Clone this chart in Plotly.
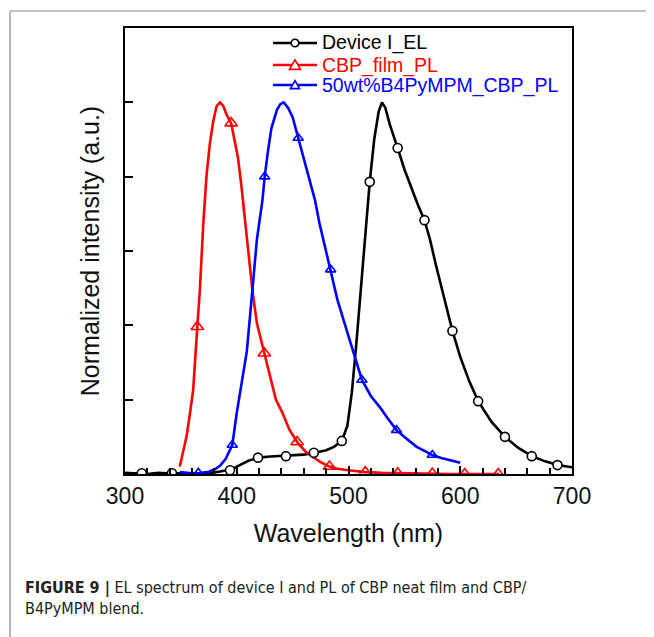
import plotly.graph_objects as go

# ---- data ----
el_wl = [300, 310, 320, 330, 340, 350, 360, 370, 380, 390, 395, 400, 405, 410, 415, 420, 430, 440, 450, 460,
         470, 480, 487, 494, 499, 503, 507, 511, 515, 519, 523, 527, 530, 533, 537, 541, 544, 550, 556, 562,
         568, 573, 578, 585, 593, 600, 608, 616, 628, 640, 652, 664, 676, 687, 700]
el_int = [0.003, 0.002, 0.0, 0.003, 0.001, 0.002, 0.001, 0.002, 0.004, 0.008, 0.012, 0.02, 0.028, 0.035, 0.04,
          0.044, 0.047, 0.048, 0.049, 0.052, 0.057, 0.064, 0.073, 0.089, 0.13, 0.22, 0.35, 0.5, 0.65, 0.786,
          0.9, 0.975, 1.0, 0.985, 0.94, 0.9, 0.877, 0.82, 0.77, 0.725, 0.683, 0.63, 0.565, 0.48, 0.385, 0.315,
          0.25, 0.196, 0.14, 0.10, 0.07, 0.048, 0.034, 0.024, 0.018]
el_mk_wl = [315, 342, 394, 419, 444, 469, 494, 519, 544, 568, 593, 616, 640, 664, 687]
el_mk_int = [0.002, 0.002, 0.01, 0.044, 0.048, 0.057, 0.089, 0.786, 0.877, 0.683, 0.385, 0.196, 0.10, 0.048, 0.024]

cbp_wl = [349, 352, 355, 358, 361, 364.7, 367, 370, 373, 376, 379, 382, 385, 388, 391, 395, 398, 401, 404, 406,
          410, 414, 418, 424.7, 430, 435, 441, 447, 454, 461, 468, 475, 483, 490, 500, 515, 530, 544, 560, 575,
          590, 604, 620, 635]
cbp_int = [0.02, 0.06, 0.1, 0.16, 0.226, 0.396, 0.495, 0.67, 0.805, 0.89, 0.95, 0.99, 1.0, 0.99, 0.966, 0.944,
           0.9, 0.853, 0.78, 0.72, 0.6, 0.495, 0.406, 0.325, 0.253, 0.2, 0.164, 0.12, 0.086, 0.062, 0.046, 0.032,
           0.02, 0.014, 0.01, 0.005, 0.003, 0.002, 0.001, 0.001, 0.0, 0.0, 0.0, 0.0]
cbp_mk_wl = [364.7, 395, 424.7, 454, 483, 515, 544, 575, 604, 634]
cbp_mk_int = [0.396, 0.944, 0.325, 0.086, 0.02, 0.005, 0.002, 0.001, 0.0, 0.0]

blend_wl = [349, 355, 360, 365, 370, 375, 380, 385, 390, 393, 396, 400, 403, 405, 409, 414, 418, 423, 425, 428,
            431, 436, 439, 442, 446, 450, 455, 459, 463, 470, 474, 479, 484, 490, 495, 500, 505, 512, 520, 528,
            535, 543, 552, 561, 568, 575, 583, 591, 600]
blend_int = [0.005, 0.003, 0.002, 0.002, 0.003, 0.006, 0.012, 0.022, 0.04, 0.058, 0.078, 0.164, 0.22, 0.253,
             0.33, 0.495, 0.63, 0.737, 0.80, 0.87, 0.93, 0.98, 0.995, 1.0, 0.985, 0.96, 0.904, 0.86, 0.81, 0.737,
             0.675, 0.61, 0.55, 0.47, 0.42, 0.37, 0.32, 0.253, 0.21, 0.18, 0.15, 0.118, 0.095, 0.073, 0.062,
             0.051, 0.043, 0.036, 0.03]
blend_mk_wl = [365.6, 396, 425, 455, 484, 512, 543, 575]
blend_mk_int = [0.003, 0.078, 0.80, 0.904, 0.55, 0.253, 0.118, 0.051]

series_names = ["Device I_EL", "CBP_film_PL", "50wt%B4PyMPM_CBP_PL"]
x_ticks = [300, 400, 500, 600, 700]

BLACK, RED, BLUE = "#000000", "#ff0000", "#0000ff"
FONT = "Liberation Sans, Arial, sans-serif"

# plot-area geometry in pixels (used to convert legend/frame positions to paper units)
PW, PH = 447, 446


def px(dx):
    return dx / PW


def py(dy):
    return dy / PH


fig = go.Figure()

specs = [
    (el_wl, el_int, el_mk_wl, el_mk_int, BLACK, "circle", 9, "white"),
    (cbp_wl, cbp_int, cbp_mk_wl, cbp_mk_int, RED, "triangle-up-open", 11, RED),
    (blend_wl, blend_int, blend_mk_wl, blend_mk_int, BLUE, "triangle-up-open", 9, BLUE),
]

for (wl, it, mwl, mit, col, sym, size, fill), name in zip(specs, series_names):
    fig.add_trace(go.Scatter(x=wl, y=it, mode="lines", line=dict(color=col, width=2.6),
                             name=name, showlegend=False, hoverinfo="skip"))
for (wl, it, mwl, mit, col, sym, size, fill), name in zip(specs, series_names):
    fig.add_trace(go.Scatter(x=mwl, y=mit, mode="markers", name=name,
                             marker=dict(symbol=sym, size=size, color=fill,
                                         line=dict(color=col, width=1.6)),
                             showlegend=False))

fig.update_layout(
    width=654, height=637,
    margin=dict(l=117, r=90, t=20, b=171),
    paper_bgcolor="white", plot_bgcolor="white",
    font=dict(family=FONT, color="#111"),
    showlegend=False,
    xaxis=dict(range=[300, 700], tickvals=x_ticks, ticktext=[str(v) for v in x_ticks],
               ticks="inside", ticklen=8, tickwidth=1.5, tickcolor="black",
               minor=dict(dtick=20, ticks="inside", ticklen=6, tickwidth=1.5, tickcolor="black"),
               showline=True, linecolor="black", linewidth=2, mirror=True,
               showgrid=False, zeroline=False,
               tickfont=dict(size=23, family=FONT, color="#111"),
               title=dict(text="Wavelength (nm)", font=dict(size=25, family=FONT, color="#111"), standoff=17)),
    yaxis=dict(range=[0, 1.2], dtick=0.2, ticks="inside", ticklen=8, tickwidth=1.5, tickcolor="black",
               showticklabels=False,
               showline=True, linecolor="black", linewidth=2, mirror=True,
               showgrid=False, zeroline=False,
               title=dict(text="Normalized intensity (a.u.)", font=dict(size=25, family=FONT, color="#111"),
                          standoff=16)),
)

# ---- in-plot legend (Origin style): sample line + marker + coloured text ----
leg_rows_y = [474 - 43, 474 - 65, 474 - 85]   # pixel heights above the x axis
line_x0, line_x1, text_x = 273 - 125, 317 - 125, 321 - 125
for (wl, it, mwl, mit, col, sym, size, fill), name, ry in zip(specs, series_names, leg_rows_y):
    yc = py(ry)
    fig.add_shape(type="line", xref="paper", yref="paper", x0=px(line_x0), x1=px(line_x1), y0=yc, y1=yc,
                  line=dict(color=col, width=2.6))
    cx = px((line_x0 + line_x1) / 2)
    if sym == "circle":
        r = 3.8
        fig.add_shape(type="circle", xref="paper", yref="paper",
                      x0=cx - px(r), x1=cx + px(r), y0=yc - py(r), y1=yc + py(r),
                      fillcolor="white", line=dict(color=col, width=1.6))
    else:
        h = size * 0.5
        path = (f"M{cx - px(h)},{yc - py(h * 0.8)} L{cx + px(h)},{yc - py(h * 0.8)} "
                f"L{cx},{yc + py(h * 0.95)} Z")
        fig.add_shape(type="path", xref="paper", yref="paper", path=path,
                      fillcolor="white", line=dict(color=col, width=1.6))
    fig.add_annotation(xref="paper", yref="paper", x=px(text_x), y=yc, xanchor="left", yanchor="middle",
                       text=name, showarrow=False, borderpad=0,
                       font=dict(size=19.5, family=FONT, color=col))

# figure frame (left and top rules of the page box)
fig.add_shape(type="line", xref="paper", yref="paper", x0=px(10 - 125), x1=px(654 - 125),
              y0=py(474 - 11), y1=py(474 - 11), line=dict(color="#888", width=1.2))
fig.add_shape(type="line", xref="paper", yref="paper", x0=px(10 - 125), x1=px(10 - 125),
              y0=py(474 - 11), y1=py(474 - 640), line=dict(color="#888", width=1.2))

fig.add_annotation(
    xref="paper", yref="paper", x=px(24 - 125), y=py(474 - 577), xanchor="left", yanchor="top",
    text="<b>FIGURE 9 |</b> EL spectrum of device I and PL of CBP neat film and CBP/<br>B4PyMPM blend.",
    showarrow=False, align="left", borderpad=0,
    font=dict(size=16, family="Liberation Sans Narrow, DejaVu Sans Condensed, Arial Narrow, sans-serif", color="#222"),
)

fig.write_html("out.html")
